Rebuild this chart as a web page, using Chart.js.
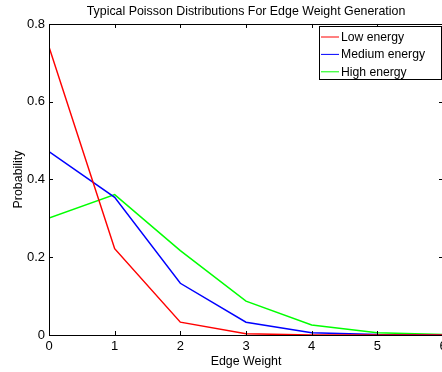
<!DOCTYPE html>
<html lang="en">
<head>
<meta charset="UTF-8">
<title>Typical Poisson Distributions For Edge Weight Generation</title>
<script src="https://cdn.jsdelivr.net/npm/chart.js@4"></script>
<style>
  * { margin: 0; padding: 0; box-sizing: border-box; }
  html, body { width: 442px; height: 372px; overflow: hidden; background: #fff; }
  #wrap { width: 452px; height: 372px; }
</style>
</head>
<body>
<div id="wrap"><canvas id="chart" width="452" height="372"></canvas></div>
<script>
const edgeWeights = [0, 1, 2, 3, 4, 5, 6];
const lowEnergy = [0.741, 0.222, 0.033, 0.003, 0.0003, 0, 0];
const mediumEnergy = [0.472, 0.354, 0.133, 0.033, 0.006, 0.001, 0.0001];
const highEnergy = [0.301, 0.361, 0.217, 0.087, 0.026, 0.006, 0.001];
const seriesNames = ['Low energy', 'Medium energy', 'High energy'];
const seriesColors = ['#ff0000', '#0000ff', '#00ff00'];
const yTicks = [0, 0.2, 0.4, 0.6, 0.8];

const FONT = "'Liberation Sans', Arial, Helvetica, sans-serif";
Chart.defaults.font.family = FONT;
Chart.defaults.font.size = 12.4;
Chart.defaults.color = '#000';

const toPoints = arr => arr.map((y, i) => ({ x: edgeWeights[i], y }));

// matlab style box, inward ticks and legend
const matlabBox = {
  id: 'matlabBox',
  afterDatasetsDraw(chart) {
    const { ctx, chartArea: a, scales: { x, y } } = chart;
    const tl = 4;
    ctx.save();
    ctx.strokeStyle = '#000';
    ctx.lineWidth = 1;
    ctx.beginPath();
    for (const v of edgeWeights) {
      const px = Math.round(x.getPixelForValue(v)) + 0.5;
      ctx.moveTo(px, a.bottom); ctx.lineTo(px, a.bottom - tl);
      ctx.moveTo(px, a.top); ctx.lineTo(px, a.top + tl);
    }
    for (const v of yTicks) {
      const py = Math.round(y.getPixelForValue(v)) + 0.5;
      ctx.moveTo(a.left, py); ctx.lineTo(a.left + tl, py);
      ctx.moveTo(a.right, py); ctx.lineTo(a.right - tl, py);
    }
    ctx.stroke();
    ctx.strokeRect(Math.round(a.left) + 0.5, Math.round(a.top) + 0.5,
      Math.round(a.right - a.left), Math.round(a.bottom - a.top));

    // legend
    const lx = 319.5, ly = 26.5, lw = 122, lh = 53;
    ctx.fillStyle = '#fff';
    ctx.fillRect(lx, ly, lw, lh);
    ctx.strokeRect(lx, ly, lw, lh);
    ctx.font = '12.2px ' + FONT;
    ctx.textBaseline = 'middle';
    ctx.textAlign = 'left';
    seriesNames.forEach((name, i) => {
      const ry = 37 + i * 17.4;
      ctx.strokeStyle = seriesColors[i];
      ctx.beginPath();
      ctx.moveTo(321, ry); ctx.lineTo(339, ry);
      ctx.stroke();
      ctx.fillStyle = '#000';
      ctx.fillText(name, 341, ry + 0.5);
    });
    ctx.restore();
  }
};

new Chart(document.getElementById('chart'), {
  type: 'line',
  data: {
    datasets: [
      { label: seriesNames[0], data: toPoints(lowEnergy), borderColor: seriesColors[0] },
      { label: seriesNames[1], data: toPoints(mediumEnergy), borderColor: seriesColors[1] },
      { label: seriesNames[2], data: toPoints(highEnergy), borderColor: seriesColors[2] },
    ].map(d => Object.assign(d, { borderWidth: 1.5, pointRadius: 0, fill: false, tension: 0 }))
  },
  options: {
    responsive: false,
    animation: false,
    layout: { padding: { top: 0, right: 9, bottom: 0, left: 0 } },
    plugins: {
      legend: { display: false },
      tooltip: { enabled: false },
      title: {
        display: true,
        fullSize: false,
        text: 'Typical Poisson Distributions For Edge Weight Generation',
        font: { size: 12.4, weight: 'normal', lineHeight: 1.2 },
        padding: { top: 4.6, bottom: 4.5 },
        color: '#000'
      }
    },
    scales: {
      x: {
        type: 'linear',
        min: 0, max: 6,
        grid: { display: false, drawTicks: false },
        border: { display: false },
        ticks: { stepSize: 1, padding: 4, maxRotation: 0, color: '#000', font: { size: 13 } },
        title: { display: true, text: 'Edge Weight', padding: { top: 0, bottom: 2.6 }, font: { size: 12.4, lineHeight: 1.2 } },
        afterFit: s => { s.height = 37; }
      },
      y: {
        min: 0, max: 0.8,
        grid: { display: false, drawTicks: false },
        border: { display: false },
        ticks: { stepSize: 0.2, padding: 4, color: '#000', font: { size: 13 }, callback: v => String(Math.round(v * 10) / 10) },
        title: { display: true, text: 'Probability', padding: { top: 11.6, bottom: 0 }, font: { size: 12.4, lineHeight: 1.2 } },
        afterFit: s => { s.width = 49; }
      }
    }
  },
  plugins: [matlabBox]
});
</script>
</body>
</html>
